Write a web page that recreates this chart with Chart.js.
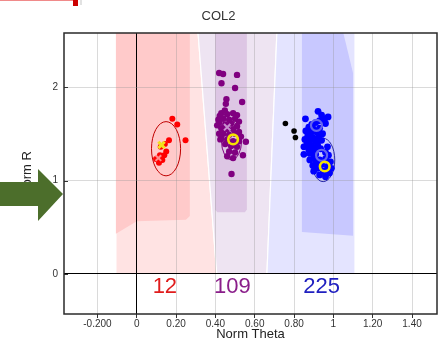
<!DOCTYPE html>
<html>
<head>
<meta charset="utf-8">
<script src="https://cdn.jsdelivr.net/npm/chart.js"></script>
<style>
  body { margin: 0; background: #fff; }
  #wrap { position: relative; width: 445px; height: 341px; overflow: hidden; }
  #chart { position: absolute; left: 0; top: 0; }
  /* pointer arrow laid over the y axis title */
  #arrow { position: absolute; left: 0; top: 169px; width: 64px; height: 52px; background: #4c6e2b;
           clip-path: polygon(0 13px, 38px 13px, 38px 0, 63px 25px, 38px 52px, 38px 37px, 0 37px); }
  /* cropped remains of a callout at the top left */
  #callout { position: absolute; left: 0; top: 0; width: 73px; height: 1px; background: #f08a8a; }
  #calloutEnd { position: absolute; left: 73px; top: 0; width: 5px; height: 6px; background: #cc0000; }
  #calloutGrey { position: absolute; left: 80px; top: 0; width: 2px; height: 5px; background: #e2e2e2; }
</style>
</head>
<body>
<div id="wrap">
  <canvas id="chart" width="445" height="341"></canvas>
  <div id="arrow"></div>
  <div id="callout"></div><div id="calloutEnd"></div><div id="calloutGrey"></div>
</div>
<script>
// axis ranges and tick labels
const thetaMin = -0.37, thetaMax = 1.527;
const rMin = -0.428, rMax = 2.578;
const xTickValues = [-0.2, 0, 0.2, 0.4, 0.6, 0.8, 1, 1.2, 1.4];
const xTickLabels = ['-0.200', '0', '0.20', '0.40', '0.60', '0.80', '1', '1.20', '1.40'];

// class points (Norm Theta / Norm R)
const redTheta = [0.181, 0.206, 0.248, 0.164, 0.150, 0.140, 0.130, 0.113, 0.098, 0.122, 0.143, 0.118];
const redR     = [1.66, 1.60, 1.43, 1.43, 1.31, 1.27, 1.22, 1.19, 1.23, 1.36, 1.39, 1.27];

const purpleTheta = [0.419, 0.439, 0.510, 0.431, 0.500, 0.536, 0.456, 0.453, 0.448, 0.422, 0.555, 0.540, 0.482, 0.419, 0.409,
  0.43, 0.46, 0.49, 0.51, 0.44, 0.47, 0.50, 0.52, 0.42, 0.45, 0.48, 0.51, 0.43, 0.46, 0.49, 0.52,
  0.44, 0.47, 0.50, 0.53, 0.43, 0.46, 0.49, 0.52, 0.45, 0.48, 0.51, 0.47, 0.50, 0.49, 0.46, 0.415, 0.425];
const purpleR = [2.15, 2.14, 2.13, 2.04, 1.99, 1.84, 1.87, 1.82, 1.75, 1.69, 1.415, 1.27, 1.07, 1.50, 1.59,
  1.72, 1.71, 1.72, 1.70, 1.66, 1.65, 1.66, 1.63, 1.62, 1.60, 1.61, 1.58, 1.56, 1.55, 1.55, 1.52,
  1.50, 1.49, 1.50, 1.47, 1.45, 1.44, 1.42, 1.42, 1.39, 1.37, 1.36, 1.31, 1.30, 1.24, 1.26, 1.65, 1.44];

const blueTheta = [0.922, 0.973, 0.858, 0.940, 0.955, 0.930, 0.910, 0.960, 0.890, 0.875, 0.900, 0.930, 0.860, 0.885, 0.915,
  0.945, 0.870, 0.895, 0.925, 0.855, 0.880, 0.910, 0.940, 0.865, 0.890, 0.920, 0.850, 0.875, 0.905, 0.935,
  0.850, 0.880, 0.910, 0.960, 0.975, 0.900, 0.930, 0.960, 0.985, 0.910, 0.940, 0.970, 0.990, 0.920, 0.950,
  0.980, 0.930, 0.960, 0.900, 0.895, 0.970, 0.880];
const blueR = [1.74, 1.68, 1.66, 1.70, 1.66, 1.64, 1.62, 1.61, 1.60, 1.57, 1.55, 1.56, 1.53, 1.51, 1.52,
  1.50, 1.48, 1.46, 1.47, 1.44, 1.42, 1.42, 1.43, 1.39, 1.37, 1.38, 1.36, 1.33, 1.33, 1.34,
  1.28, 1.29, 1.28, 1.30, 1.27, 1.24, 1.22, 1.23, 1.20, 1.19, 1.17, 1.15, 1.13, 1.13, 1.10,
  1.08, 1.06, 1.04, 1.10, 1.16, 1.36, 1.22];

const blackTheta = [0.756, 0.800, 0.807];
const blackR     = [1.61, 1.53, 1.46];

// class centres and markers
const yellowRingTheta = [0.49, 0.956];
const yellowRingR     = [1.44, 1.15];
const yellowCrossTheta = [0.126];
const yellowCrossR     = [1.38];
const blueRingTheta = [0.914, 0.94];
const blueRingR     = [1.59, 1.27];
const redCrossTheta = [0.11];
const redCrossR     = [1.24];
const purpleCrossTheta = [0.46];
const purpleCrossR     = [1.57];

// spread ellipses: red, purple, blue
const ellipseTheta = [0.149, 0.482, 0.948];
const ellipseR     = [1.34, 1.425, 1.22];
const ellipseSemiTheta = [0.074, 0.051, 0.059];
const ellipseSemiR     = [0.29, 0.205, 0.232];

// class counts shown under the zero line
const countLabels = ['12', '109', '225'];
const countTheta  = [0.143, 0.486, 0.94];
const countR = -0.134;

// decision zones, [theta, r] corners
const redZone      = [[-0.106, 2.6], [0.311, 2.6], [0.407, 0], [-0.106, 0]];
const redCore      = [[-0.106, 2.6], [0.27, 2.6], [0.27, 0.62], [0.25, 0.58], [0, 0.565], [-0.106, 0.43]];
const purpleZone   = [[0.311, 2.6], [0.713, 2.6], [0.662, 0], [0.407, 0]];
const purpleCore   = [[0.398, 2.6], [0.560, 2.6], [0.560, 0.69], [0.55, 0.66], [0.41, 0.66], [0.398, 0.69]];
const blueZone     = [[0.713, 2.6], [1.11, 2.6], [1.11, 0], [0.662, 0]];
const blueCore     = [[0.84, 2.6], [1.048, 2.6], [1.10, 2.15], [1.10, 0.41], [0.84, 0.45]];

const FONT = 'Liberation Sans, Arial, sans-serif';
const pts = (xs, ys) => xs.map((x, i) => ({ x: x, y: ys[i] }));

const zonePlugin = {
    id: 'zones',
    beforeDraw(chart) {
        const { ctx, chartArea: a, scales: { x, y } } = chart;
        const zones = [
            [redZone, '#ffe3e3'], [redCore, '#ffcaca'],
            [purpleZone, '#eee4f2'], [purpleCore, '#ddc6e4'],
            [blueZone, '#e4e4ff'], [blueCore, '#c8c8ff']
        ];
        ctx.save();
        ctx.beginPath();
        ctx.rect(a.left, a.top, a.width, a.height);
        ctx.clip();
        zones.forEach(([poly, color], k) => {
            ctx.beginPath();
            poly.forEach(([t, r], i) => {
                const px = x.getPixelForValue(t), py = y.getPixelForValue(r);
                if (i === 0) ctx.moveTo(px, py); else ctx.lineTo(px, py);
            });
            ctx.closePath();
            ctx.fillStyle = color;
            ctx.fill();
            if (k % 2 === 0) {
                ctx.strokeStyle = '#ffffff';
                ctx.lineWidth = 1.2;
                ctx.stroke();
            }
        });
        ctx.restore();
    },
    beforeDatasetsDraw(chart) {
        const { ctx, scales: { x, y } } = chart;
        const colors = ['#c00000', '#800080', '#2a2aa8'];
        ctx.save();
        ellipseTheta.forEach((t, i) => {
            const cx = x.getPixelForValue(t), cy = y.getPixelForValue(ellipseR[i]);
            const rx = Math.abs(x.getPixelForValue(t + ellipseSemiTheta[i]) - cx);
            const ry = Math.abs(y.getPixelForValue(ellipseR[i] + ellipseSemiR[i]) - cy);
            ctx.beginPath();
            ctx.ellipse(cx, cy, rx, ry, 0, 0, Math.PI * 2);
            ctx.strokeStyle = colors[i];
            ctx.lineWidth = 1;
            ctx.stroke();
        });
        ctx.restore();
    },
    afterDraw(chart) {
        const { ctx, chartArea: a, scales: { x, y } } = chart;
        ctx.save();
        // count labels
        const colors = ['#e01c1c', '#8a1e8a', '#2020c0'];
        ctx.font = '22px ' + FONT;
        ctx.textAlign = 'center';
        ctx.textBaseline = 'middle';
        countLabels.forEach((txt, i) => {
            ctx.fillStyle = colors[i];
            ctx.fillText(txt, x.getPixelForValue(countTheta[i]), y.getPixelForValue(countR));
        });
        // inner y ticks
        ctx.strokeStyle = '#333';
        ctx.lineWidth = 1;
        y.ticks.forEach(tk => {
            const py = Math.round(y.getPixelForValue(tk.value)) + 0.5;
            ctx.beginPath();
            ctx.moveTo(a.left, py);
            ctx.lineTo(a.left + 4, py);
            ctx.stroke();
        });
        // frame
        ctx.strokeStyle = '#2a2a2a';
        ctx.lineWidth = 1.5;
        ctx.strokeRect(a.left, a.top, a.width, a.height);
        ctx.restore();
    }
};

const gridColor = c => (c.tick && Math.abs(c.tick.value) < 1e-9) ? '#000000' : 'rgba(150,150,150,0.35)';

const ctx = document.getElementById('chart').getContext('2d');

// lower order is drawn on top
const chart = new Chart(ctx, {
    type: 'scatter',
    data: {
        datasets: [
            { order: 9, data: pts(redTheta, redR), backgroundColor: '#ff0000', pointRadius: 3, borderWidth: 0 },
            { order: 8, data: pts(purpleTheta, purpleR), backgroundColor: '#800080', pointRadius: 3.2, borderWidth: 0 },
            { order: 7, data: pts(blueTheta, blueR), backgroundColor: '#0000ff', pointRadius: 3.4, borderWidth: 0 },
            { order: 6, data: pts(blackTheta, blackR), backgroundColor: '#000000', pointRadius: 2.8, borderWidth: 0 },
            { order: 5, data: pts(redCrossTheta, redCrossR), pointStyle: 'crossRot', pointRadius: 4, borderColor: '#ff8c8c', borderWidth: 2 },
            { order: 4, data: pts(purpleCrossTheta, purpleCrossR), pointStyle: 'crossRot', pointRadius: 4.5, borderColor: '#c890d0', borderWidth: 2 },
            { order: 3, data: pts(blueRingTheta, blueRingR), pointRadius: 5.5, backgroundColor: 'rgba(0,0,0,0)', borderColor: '#6666ee', borderWidth: 2.2 },
            { order: 2, data: pts(yellowCrossTheta, yellowCrossR), pointStyle: 'crossRot', pointRadius: 4.5, borderColor: '#f2e21c', borderWidth: 3 },
            { order: 1, data: pts(yellowRingTheta, yellowRingR), pointRadius: 4.8, backgroundColor: 'rgba(0,0,0,0)', borderColor: '#f5e400', borderWidth: 2.6 }
        ]
    },
    options: {
        responsive: false,
        animation: false,
        devicePixelRatio: 1,
        layout: { padding: { left: 0, right: 8, top: 0, bottom: 0 } },
        plugins: {
            legend: { display: false },
            tooltip: { enabled: false },
            title: {
                display: true,
                text: 'COL2',
                color: '#333',
                font: { family: FONT, size: 13, weight: 'normal' },
                padding: { top: 9, bottom: 8.4 }
            }
        },
        scales: {
            x: {
                type: 'linear',
                min: thetaMin,
                max: thetaMax,
                afterFit: s => { s.height = 27; },
                border: { display: false },
                grid: { color: gridColor, tickColor: '#333', tickLength: 4, lineWidth: 1 },
                ticks: {
                    stepSize: 0.2,
                    includeBounds: false,
                    autoSkip: false,
                    maxRotation: 0,
                    padding: 0,
                    color: '#333',
                    font: { family: FONT, size: 10 },
                    callback: v => {
                        const i = xTickValues.findIndex(t => Math.abs(t - v) < 1e-6);
                        return i >= 0 ? xTickLabels[i] : '';
                    }
                },
                title: {
                    display: true,
                    text: 'Norm Theta',
                    color: '#222',
                    padding: 0,
                    font: { family: FONT, size: 13, lineHeight: 1 }
                }
            },
            y: {
                min: rMin,
                max: rMax,
                afterFit: s => { s.width = 64; },
                border: { display: false },
                grid: { color: gridColor, drawTicks: false, lineWidth: 1 },
                ticks: {
                    stepSize: 1,
                    includeBounds: false,
                    padding: 6,
                    color: '#333',
                    font: { family: FONT, size: 10 }
                },
                title: {
                    display: true,
                    text: 'Norm R',
                    color: '#222',
                    padding: { top: 20, bottom: 0 },
                    font: { family: FONT, size: 13 }
                }
            }
        }
    },
    plugins: [zonePlugin]
});
</script>
</body>
</html>
